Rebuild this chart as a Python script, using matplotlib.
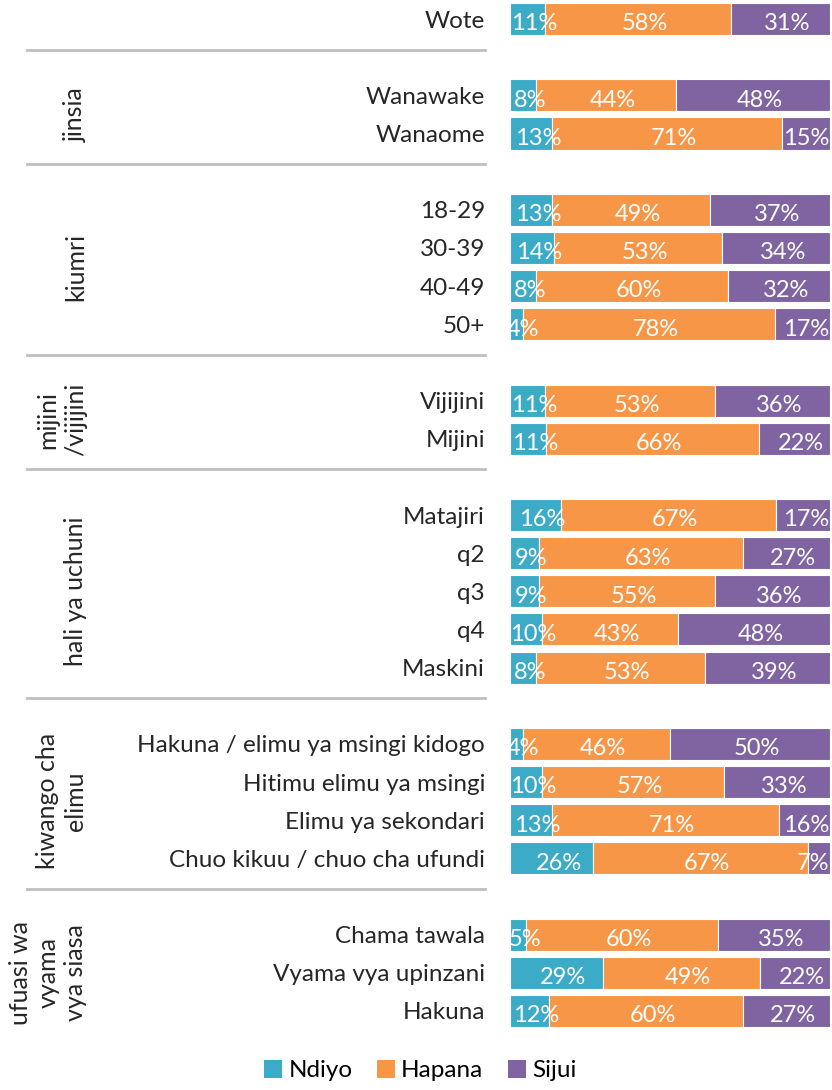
import numpy as np
import matplotlib.pyplot as plt
import matplotlib.transforms as mtransforms
from matplotlib.patches import Patch

plt.rcParams['font.family'] = ['Lato', 'DejaVu Sans']

# groups: (group label, category labels)
groups = [
    ('', ['Wote']),
    ('jinsia', ['Wanawake', 'Wanaome']),
    ('kiumri', ['18-29', '30-39', '40-49', '50+']),
    ('mijini\n/vijijini', ['Vijijini', 'Mijini']),
    ('hali ya uchuni', ['Matajiri', 'q2', 'q3', 'q4', 'Maskini']),
    ('kiwango cha\nelimu', ['Hakuna / elimu ya msingi kidogo', 'Hitimu elimu ya msingi',
                            'Elimu ya sekondari', 'Chuo kikuu / chuo cha ufundi']),
    ('ufuasi wa\nvyama\nvya siasa', ['Chama tawala', 'Vyama vya upinzani', 'Hakuna']),
]

ndiyo = [11, 8, 13, 13, 14, 8, 4, 11, 11, 16, 9, 9, 10, 8, 4, 10, 13, 26, 5, 29, 12]
hapana = [58, 44, 71, 49, 53, 60, 78, 53, 66, 67, 63, 55, 43, 53, 46, 57, 71, 67, 60, 49, 60]
sijui = [31, 48, 15, 37, 34, 32, 17, 36, 22, 17, 27, 36, 48, 39, 50, 33, 16, 7, 35, 22, 27]

series_names = ['Ndiyo', 'Hapana', 'Sijui']
colors = ['#3BABC7', '#F79646', '#8064A2']

# row positions: one blank row between groups
labels, ypos, seps, group_pos = [], [], [], []
row = 0
for gi, (gname, cats) in enumerate(groups):
    if gi > 0:
        seps.append(row - 0.2)
        row += 1
    start = row
    for c in cats:
        labels.append(c)
        ypos.append(row)
        row += 1
    group_pos.append((gname, (start + row - 1) / 2))
ypos = np.array(ypos)

vals = np.array([ndiyo, hapana, sijui], dtype=float)
shares = vals / vals.sum(axis=0) * 100

W, H = 832, 1090
fig = plt.figure(figsize=(W / 100, H / 100), dpi=100)
ax = fig.add_axes([510 / W, 60 / H, 320 / W, 1030 / H])

value_texts = []
left = np.zeros(len(labels))
for k in range(3):
    ax.barh(ypos, shares[k], left=left, height=0.84, color=colors[k],
            edgecolor='white', linewidth=0.8)
    for y, l, s, v in zip(ypos, left, shares[k], vals[k]):
        t = ax.annotate(f'{int(v)}%', (l + s / 2, y), xytext=(5, -3.5),
                        textcoords='offset points', ha='center', va='center',
                        color='white', fontsize=17)
        value_texts.append(t)
    left += shares[k]

ax.set_xlim(0, 100)
ax.set_ylim(row - 0.5, -0.5)
ax.set_yticks(ypos)
ax.set_yticklabels(labels, fontsize=17.5, color='#262626')
ax.tick_params(axis='y', length=0, pad=18)
ax.set_xticks([])
for sp in ax.spines.values():
    sp.set_visible(False)

trans = mtransforms.blended_transform_factory(fig.transFigure, ax.transData)
for s in seps:
    ax.plot([27 / W, 485 / W], [s, s], transform=trans, color='#BFBFBF',
            linewidth=2, clip_on=False)
for gname, gy in group_pos:
    if gname:
        ax.text(87 / W, gy, gname, transform=trans, rotation=90, ha='right',
                va='center', multialignment='center', fontsize=18,
                color='#262626', linespacing=1.25)

handles = [Patch(facecolor=c, label=n) for c, n in zip(colors, series_names)]
fig.legend(handles=handles, loc='lower center', bbox_to_anchor=(0.505, -0.012),
           ncol=3, frameon=False, fontsize=17.5, handlelength=0.75, handleheight=0.75,
           handletextpad=0.25, columnspacing=1.0)

# keep value labels inside the bar area, like the original
fig.canvas.draw()
renderer = fig.canvas.get_renderer()
right_px = ax.get_window_extent().x1 - 1
for t in value_texts:
    bb = t.get_window_extent(renderer)
    if bb.x1 > right_px:
        dx, dy = t.xyann
        t.xyann = (dx - (bb.x1 - right_px) * 72 / fig.dpi, dy)

fig.savefig('out.png', dpi=100)
